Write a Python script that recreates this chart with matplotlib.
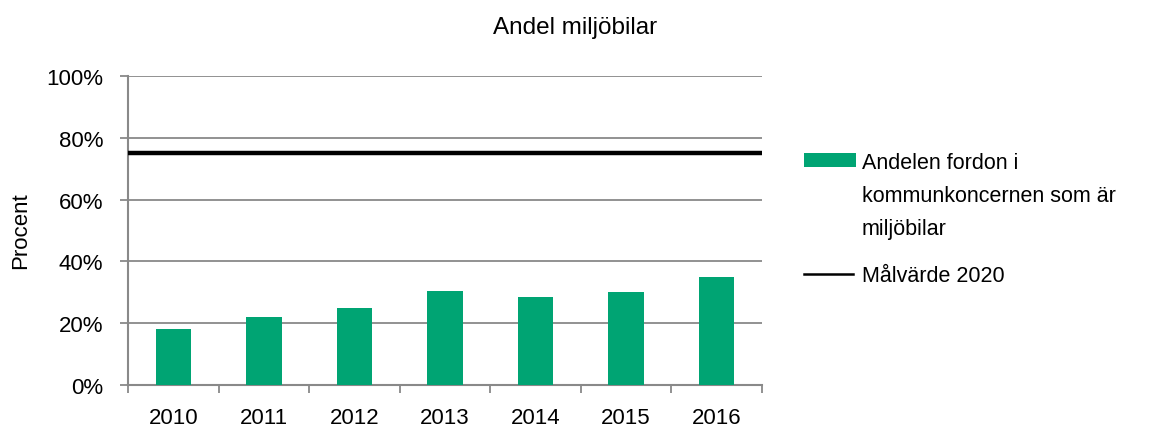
import matplotlib.pyplot as plt
from matplotlib.patches import Rectangle
from matplotlib.lines import Line2D
from matplotlib.ticker import FuncFormatter

plt.rcParams['font.family'] = ['Liberation Sans', 'DejaVu Sans']

# Data
years = ['2010', '2011', '2012', '2013', '2014', '2015', '2016']
andel_miljobilar = [0.181, 0.22, 0.249, 0.303, 0.284, 0.30, 0.349]
malvarde_2020 = 0.75

legend_labels = ['Andelen fordon i\nkommunkoncernen som är\nmiljöbilar', 'Målvärde 2020']

GREEN = '#00a473'
GRID = '#898989'

W, H = 1157, 431
fig = plt.figure(figsize=(W / 100, H / 100), dpi=100)
ax = fig.add_axes([128 / W, 1 - 386 / H, 634 / W, 309 / H])

x = list(range(len(years)))
ax.bar(x, andel_miljobilar, width=0.39, color=GREEN, zorder=3)
ax.axhline(malvarde_2020, color='black', lw=3.2, zorder=4)

ax.set_xlim(-0.5, len(years) - 0.5)
ax.set_ylim(0, 1)
ax.set_yticks([0, 0.2, 0.4, 0.6, 0.8, 1.0])
ax.yaxis.set_major_formatter(FuncFormatter(lambda v, p: f"{int(round(v * 100))}%"))
ax.grid(axis='y', color=GRID, lw=1.3, zorder=0)

ax.set_xticks(x)
ax.set_xticklabels(years)
ax.set_xticks([i - 0.5 for i in range(len(years) + 1)], minor=True)
ax.tick_params(axis='x', which='major', length=0, pad=15.5, labelsize=16)
ax.tick_params(axis='x', which='minor', length=5.8, color=GRID, width=1.3)
ax.tick_params(axis='y', length=5.8, color=GRID, width=1.3, labelsize=16, pad=12)

for s in ['top', 'right']:
    ax.spines[s].set_visible(False)
for s in ['left', 'bottom']:
    ax.spines[s].set_color(GRID)
    ax.spines[s].set_linewidth(1.5)

# title and axis label
fig.text(575 / W, 1 - 34.3 / H, 'Andel miljöbilar', ha='center', va='baseline', fontsize=17.5)
fig.text(21 / W, 1 - 231 / H, 'Procent', ha='center', va='center', rotation=90, fontsize=16)

# legend, drawn by hand so the patch sits at the first text line
fig.patches.append(Rectangle((804 / W, 1 - 168 / H), 52 / W, 14 / H,
                             facecolor=GREEN, edgecolor='none', transform=fig.transFigure))
for i, linje in enumerate(legend_labels[0].split('\n')):
    fig.text(862 / W, 1 - (169.3 + 32.7 * i) / H, linje, ha='left', va='baseline', fontsize=15.5)
fig.lines.append(Line2D([804 / W, 853 / W], [1 - 275 / H, 1 - 275 / H], color='black',
                        lw=1.8, transform=fig.transFigure))
fig.text(862 / W, 1 - 281.7 / H, legend_labels[1], ha='left', va='baseline', fontsize=15.5)

fig.savefig('out.png', dpi=100)
